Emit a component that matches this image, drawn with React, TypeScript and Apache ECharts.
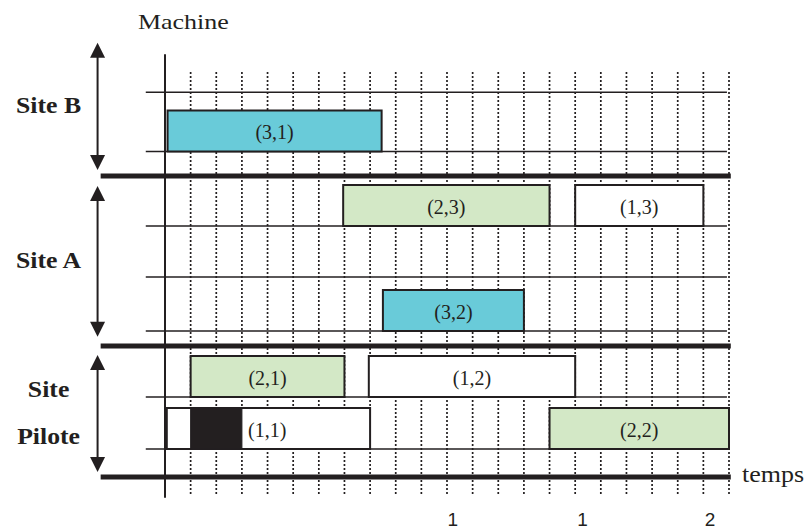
import React, { useEffect, useRef } from "react";
import * as echarts from "echarts";

// ---------- data ----------
const sites = ["Site B", "Site A", "Site\nPilote"];
const siteSpanTop = [-1.23, 13.1, 30.0];
const siteSpanBottom = [11.5, 28.17, 41.7];

// machine lanes (baseline level on the vertical scale)
const machineBaselines = [9.65, 17.1, 22.2, 27.6, 34.2, 39.4];
const guideLines = [3.73];
const siteSeparators = [12.1, 29.1, 42.2];

// time grid
const timeTicks = [1, 2, 3, 4, 5, 6, 7, 8, 9, 10, 11, 12, 13, 14, 15, 16, 17, 18, 19, 20, 21, 22];

// tasks (job, operation)
const taskLabels = ["(3,1)", "(2,3)", "(1,3)", "(3,2)", "(2,1)", "(1,2)", "(1,1)", "(2,2)"];
const taskJob = [3, 2, 1, 3, 2, 1, 1, 2];
const taskMachine = [0, 1, 1, 3, 4, 4, 5, 5];
const taskStart = [0.1, 6.95, 16, 8.5, 1, 7.95, 0.07, 15];
const taskEnd = [8.45, 15, 21, 14, 7, 16, 8, 22];
const setupStart = [null, null, null, null, null, null, 1, null];
const setupEnd = [null, null, null, null, null, null, 3, null];

const bottomTickLabels = ["1", "1", "2"];
const bottomTickAt = [11.23, 16.29, 21.26];

// ---------- styles / layout ----------
const INK = "#231f20";
const JOB_COLORS: Record<number, string> = { 1: "#ffffff", 2: "#d3e8c6", 3: "#69cbd9" };
const SERIF = '"Liberation Serif", "Times New Roman", serif';
const SANS = '"Liberation Sans", Arial, sans-serif';
const X_MAX = 22;
const Y_MAX = 44.2;
const BAR_H = 4.1;
const LANE_X0 = -0.75;
const LANE_X1 = 21.92;
const SEP_X0 = -2.51;
const SEP_X1 = 22.07;
const DOT_Y0 = 1.7;
const DOT_Y1 = 44.0;
const ARROW_X = -2.63;
const BOTTOM_LABEL_Y = 46.4;

export default function App() {
  const ref = useRef<HTMLDivElement>(null);

  useEffect(() => {
    if (!ref.current) return;
    const chart = echarts.init(ref.current, null, { renderer: "svg" });

    const taskData = taskLabels.map((_, i) => [
      taskStart[i],
      taskEnd[i],
      machineBaselines[taskMachine[i]],
      i,
    ]);

    const option: any = {
      animation: false,
      backgroundColor: "#ffffff",
      grid: { left: 165, top: 55, width: 564, height: 442 },
      xAxis: {
        type: "value",
        min: 0,
        max: X_MAX,
        show: false,
      },
      yAxis: {
        type: "value",
        min: 0,
        max: Y_MAX,
        inverse: true,
        axisLine: { show: true, lineStyle: { color: INK, width: 2 } },
        axisTick: { show: false },
        axisLabel: { show: false },
        splitLine: { show: false },
      },
      graphic: [
        {
          type: "text",
          x: 138,
          y: 22,
          scaleX: 1.18,
          style: {
            text: "Machine",
            fontFamily: SERIF,
            fontSize: 22,
            fill: INK,
            align: "left",
            verticalAlign: "middle",
          },
        },
        {
          type: "text",
          x: 742,
          y: 474,
          scaleX: 1.13,
          style: {
            text: "temps",
            fontFamily: SERIF,
            fontSize: 23,
            fill: INK,
            align: "left",
            verticalAlign: "middle",
          },
        },
      ],
      series: [
        // dotted time grid
        {
          type: "custom",
          data: timeTicks.map((t) => [t, 0]),
          renderItem: (_p: any, api: any) => {
            const a = api.coord([api.value(0), DOT_Y0]);
            const b = api.coord([api.value(0), DOT_Y1]);
            return {
              type: "line",
              shape: { x1: a[0], y1: a[1], x2: b[0], y2: b[1] },
              style: { stroke: INK, lineWidth: 1.7, lineDash: [2, 2] },
            };
          },
        },
        // thin machine lines
        {
          type: "custom",
          data: guideLines.concat(machineBaselines).map((y) => [0, y]),
          renderItem: (_p: any, api: any) => {
            const a = api.coord([LANE_X0, api.value(1)]);
            const b = api.coord([LANE_X1, api.value(1)]);
            return {
              type: "line",
              shape: { x1: a[0], y1: a[1], x2: b[0], y2: b[1] },
              style: { stroke: INK, lineWidth: 1.6 },
            };
          },
        },
        // thick site separators
        {
          type: "custom",
          data: siteSeparators.map((y) => [0, y]),
          renderItem: (_p: any, api: any) => {
            const a = api.coord([SEP_X0, api.value(1)]);
            const b = api.coord([SEP_X1, api.value(1)]);
            return {
              type: "line",
              shape: { x1: a[0], y1: a[1], x2: b[0], y2: b[1] },
              style: { stroke: INK, lineWidth: 5 },
            };
          },
        },
        // tasks
        {
          type: "custom",
          data: taskData,
          renderItem: (_p: any, api: any) => {
            const i = api.value(3);
            const base = api.value(2);
            const p0 = api.coord([api.value(0), base]);
            const p1 = api.coord([api.value(1), base - BAR_H]);
            const x = p0[0];
            const y = p1[1];
            const w = p1[0] - p0[0];
            const h = p0[1] - p1[1];
            const children: any[] = [
              {
                type: "rect",
                shape: { x, y, width: w, height: h },
                style: { fill: JOB_COLORS[taskJob[i]], stroke: INK, lineWidth: 2 },
              },
            ];
            let labelX = x + w / 2;
            let align = "center";
            if (setupStart[i] != null && setupEnd[i] != null) {
              const s0 = api.coord([setupStart[i], base]);
              const s1 = api.coord([setupEnd[i], base - BAR_H]);
              children.push({
                type: "rect",
                shape: { x: s0[0], y: s1[1], width: s1[0] - s0[0], height: s0[1] - s1[1] },
                style: { fill: INK, stroke: INK, lineWidth: 1 },
              });
              labelX = api.coord([(setupEnd[i] as number) + 0.24, base])[0];
              align = "left";
            }
            children.push({
              type: "text",
              x: labelX,
              y: y + h / 2 + 1,
              style: {
                text: taskLabels[i],
                fontFamily: SERIF,
                fontSize: 20,
                fill: INK,
                align,
                verticalAlign: "middle",
              },
            });
            return { type: "group", children };
          },
        },
        // site arrows and labels
        {
          type: "custom",
          data: sites.map((_, i) => [0, siteSpanTop[i], siteSpanBottom[i], i]),
          renderItem: (_p: any, api: any) => {
            const i = api.value(3);
            const t = api.coord([ARROW_X, api.value(1)]);
            const b = api.coord([ARROW_X, api.value(2)]);
            const ax = t[0];
            const hw = 7.5;
            const hh = 15;
            return {
              type: "group",
              children: [
                {
                  type: "line",
                  shape: { x1: ax, y1: t[1] + hh - 2, x2: ax, y2: b[1] - hh + 2 },
                  style: { stroke: INK, lineWidth: 2 },
                },
                {
                  type: "polygon",
                  shape: { points: [[ax, t[1]], [ax - hw, t[1] + hh], [ax + hw, t[1] + hh]] },
                  style: { fill: INK },
                },
                {
                  type: "polygon",
                  shape: { points: [[ax, b[1]], [ax - hw, b[1] - hh], [ax + hw, b[1] - hh]] },
                  style: { fill: INK },
                },
                {
                  type: "text",
                  x: ax - 49,
                  y: (t[1] + b[1]) / 2 - 1,
                  scaleX: 1.12,
                  style: {
                    text: sites[i],
                    fontFamily: SERIF,
                    fontWeight: "bold",
                    fontSize: 23,
                    lineHeight: 48,
                    fill: INK,
                    align: "center",
                    verticalAlign: "middle",
                  },
                },
              ],
            };
          },
        },
        // bottom tick labels
        {
          type: "custom",
          data: bottomTickLabels.map((_, i) => [bottomTickAt[i], BOTTOM_LABEL_Y, i]),
          renderItem: (_p: any, api: any) => {
            const p = api.coord([api.value(0), api.value(1)]);
            return {
              type: "text",
              x: p[0],
              y: p[1],
              style: {
                text: bottomTickLabels[api.value(2)],
                fontFamily: SANS,
                fontSize: 19,
                fill: INK,
                align: "center",
                verticalAlign: "middle",
              },
            };
          },
        },
      ],
    };

    chart.setOption(option);
    return () => chart.dispose();
  }, []);

  return (
    <div
      ref={ref}
      style={{ position: "fixed", left: 0, top: 0, width: 809, height: 529, background: "#fff" }}
    />
  );
}
